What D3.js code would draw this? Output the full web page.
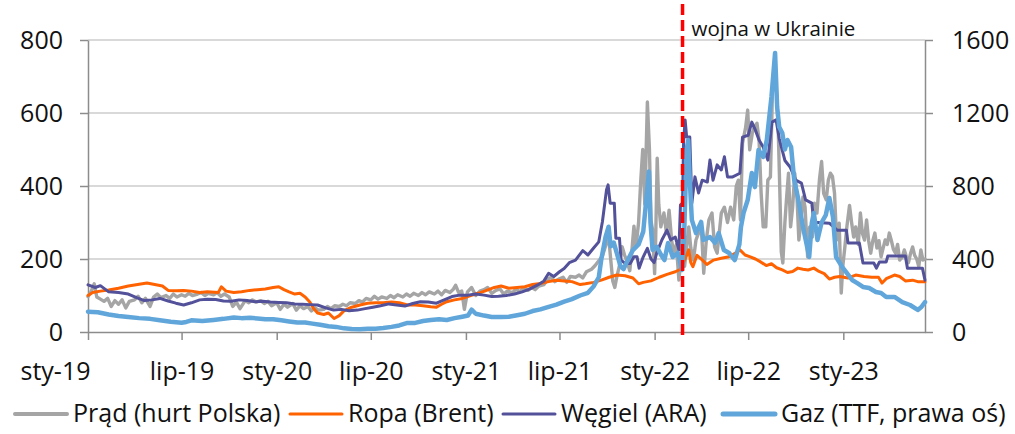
<!DOCTYPE html>
<html><head><meta charset="utf-8">
<script src="https://cdn.jsdelivr.net/npm/d3@7"></script>
<style>
body{margin:0;background:#fff}
svg text{font-family:"Open Sans",sans-serif;fill:#111}
</style>
</head><body>
<svg id="chart" width="1015" height="434"></svg>
<script>
// ---------- DATA ----------
const xTickDates = ["2019-01-01","2019-07-01","2020-01-01","2020-07-01","2021-01-01","2021-07-01","2022-01-01","2022-07-01","2023-01-01"];
const xTickLabels = ["sty-19","lip-19","sty-20","lip-20","sty-21","lip-21","sty-22","lip-22","sty-23"];
const leftTicks = [0,200,400,600,800];
const rightTicks = [0,400,800,1200,1600];
const seriesNames = ["Prąd (hurt Polska)","Ropa (Brent)","Węgiel (ARA)","Gaz (TTF, prawa oś)"];
const eventDate = "2022-02-24";
const eventLabel = "wojna w Ukrainie";
const dateStart = "2019-01-01", dateEnd = "2023-06-08";

const prad = [
["2019-01-01",97],["2019-01-06",108],["2019-01-13",132],["2019-01-18",96],["2019-01-25",90],["2019-02-01",84],["2019-02-08",92],["2019-02-15",70],["2019-02-22",86],["2019-03-01",76],["2019-03-08",88],["2019-03-15",66],["2019-03-22",84],["2019-04-01",88],["2019-04-08",98],["2019-04-15",80],["2019-04-22",92],["2019-05-01",70],["2019-05-08",96],["2019-05-15",104],["2019-05-22",94],["2019-06-01",100],["2019-06-08",92],["2019-06-15",104],["2019-06-22",96],["2019-07-01",102],["2019-07-08",98],["2019-07-15",106],["2019-07-22",100],["2019-08-01",104],["2019-08-08",108],["2019-08-15",100],["2019-08-22",106],["2019-09-01",102],["2019-09-08",108],["2019-09-15",98],["2019-09-22",104],["2019-10-01",96],["2019-10-08",70],["2019-10-15",82],["2019-10-22",64],["2019-11-01",86],["2019-11-08",80],["2019-11-15",88],["2019-11-22",82],["2019-12-01",86],["2019-12-08",78],["2019-12-15",84],["2019-12-22",72],
["2020-01-01",80],["2020-01-08",62],["2020-01-15",76],["2020-01-22",68],["2020-02-01",78],["2020-02-08",60],["2020-02-15",72],["2020-02-22",64],["2020-03-01",70],["2020-03-08",58],["2020-03-15",66],["2020-03-22",60],["2020-04-01",62],["2020-04-08",70],["2020-04-15",64],["2020-04-22",72],["2020-05-01",70],["2020-05-08",76],["2020-05-15",72],["2020-05-22",80],["2020-06-01",78],["2020-06-08",86],["2020-06-15",82],["2020-06-22",92],["2020-07-01",88],["2020-07-08",98],["2020-07-15",90],["2020-07-22",96],["2020-08-01",92],["2020-08-08",100],["2020-08-15",94],["2020-08-22",102],["2020-09-01",96],["2020-09-08",104],["2020-09-15",98],["2020-09-22",106],["2020-10-01",100],["2020-10-08",108],["2020-10-15",102],["2020-10-22",110],["2020-11-01",104],["2020-11-08",112],["2020-11-15",102],["2020-11-22",114],["2020-12-01",108],["2020-12-08",118],["2020-12-12",128],["2020-12-18",108],["2020-12-24",112],["2020-12-29",62],
["2021-01-04",110],["2021-01-12",122],["2021-01-20",100],["2021-01-28",112],["2021-02-05",116],["2021-02-12",122],["2021-02-20",106],["2021-02-28",114],["2021-03-08",118],["2021-03-15",104],["2021-03-22",112],["2021-04-01",108],["2021-04-08",118],["2021-04-15",110],["2021-04-22",120],["2021-05-01",114],["2021-05-08",122],["2021-05-15",116],["2021-05-22",126],["2021-06-01",130],["2021-06-08",144],["2021-06-15",150],["2021-06-22",138],["2021-07-01",146],["2021-07-08",150],["2021-07-15",136],["2021-07-22",152],["2021-08-01",150],["2021-08-08",156],["2021-08-15",148],["2021-08-22",165],["2021-09-01",172],["2021-09-08",182],["2021-09-15",195],["2021-09-22",208],["2021-09-29",240],["2021-10-04",262],["2021-10-08",200],["2021-10-12",140],["2021-10-16",122],["2021-10-20",152],["2021-10-25",182],["2021-10-30",234],["2021-11-04",210],["2021-11-08",196],["2021-11-14",168],["2021-11-18",222],["2021-11-22",290],["2021-11-26",232],["2021-12-01",300],["2021-12-05",410],["2021-12-09",500],["2021-12-13",350],["2021-12-18",630],["2021-12-22",500],["2021-12-25",306],["2021-12-28",280],
["2022-01-01",160],["2022-01-03",250],["2022-01-06",476],["2022-01-09",350],["2022-01-13",288],["2022-01-19",326],["2022-01-24",270],["2022-01-29",334],["2022-02-03",250],["2022-02-07",216],["2022-02-12",240],["2022-02-17",142],["2022-02-21",200],["2022-02-24",252],["2022-02-28",180],["2022-03-04",233],["2022-03-08",288],["2022-03-12",230],["2022-03-17",197],["2022-03-22",252],["2022-03-27",271],["2022-04-01",298],["2022-04-06",161],["2022-04-11",252],["2022-04-16",307],["2022-04-22",326],["2022-04-27",233],["2022-05-02",216],["2022-05-06",271],["2022-05-10",326],["2022-05-16",342],["2022-05-22",300],["2022-05-28",342],["2022-06-03",307],["2022-06-08",400],["2022-06-12",416],["2022-06-16",307],["2022-06-20",517],["2022-06-26",560],["2022-06-30",608],["2022-07-04",499],["2022-07-09",545],["2022-07-13",562],["2022-07-18",572],["2022-07-22",526],["2022-07-26",381],["2022-07-30",288],["2022-08-04",288],["2022-08-08",416],["2022-08-13",425],["2022-08-17",663],["2022-08-20",709],["2022-08-24",680],["2022-08-28",560],["2022-08-31",398],["2022-09-03",220],["2022-09-06",189],["2022-09-10",300],["2022-09-13",362],["2022-09-17",435],["2022-09-21",288],["2022-09-25",342],["2022-09-29",435],["2022-10-03",381],["2022-10-07",252],["2022-10-11",300],["2022-10-15",370],["2022-10-19",342],["2022-10-24",206],["2022-10-28",288],["2022-11-02",260],["2022-11-06",353],["2022-11-11",326],["2022-11-16",420],["2022-11-20",467],["2022-11-24",380],["2022-11-29",362],["2022-12-03",416],["2022-12-07",435],["2022-12-11",426],["2022-12-15",380],["2022-12-19",252],["2022-12-24",298],["2022-12-28",107],["2022-12-31",180],
["2023-01-04",233],["2023-01-08",290],["2023-01-13",347],["2023-01-17",300],["2023-01-21",260],["2023-01-25",288],["2023-01-30",240],["2023-02-03",326],["2023-02-07",270],["2023-02-11",252],["2023-02-15",307],["2023-02-19",250],["2023-02-23",216],["2023-02-27",250],["2023-03-03",271],["2023-03-07",230],["2023-03-11",250],["2023-03-15",206],["2023-03-19",230],["2023-03-23",252],["2023-03-27",240],["2023-03-31",271],["2023-04-04",250],["2023-04-08",226],["2023-04-12",216],["2023-04-16",240],["2023-04-20",197],["2023-04-25",205],["2023-04-29",225],["2023-05-03",206],["2023-05-07",190],["2023-05-11",215],["2023-05-15",233],["2023-05-19",210],["2023-05-23",200],["2023-05-27",179],["2023-05-31",225],["2023-06-04",197],["2023-06-08",200]
];

const ropa = [
["2019-01-01",100],["2019-01-10",108],["2019-01-25",112],["2019-02-10",115],["2019-03-01",120],["2019-03-20",126],["2019-04-10",131],["2019-04-25",134],["2019-05-10",130],["2019-05-25",126],["2019-06-05",114],["2019-06-20",113],["2019-07-05",114],["2019-07-20",112],["2019-08-05",108],["2019-08-20",110],["2019-09-10",108],["2019-09-16",124],["2019-09-25",112],["2019-10-10",108],["2019-10-25",110],["2019-11-10",114],["2019-11-25",116],["2019-12-10",118],["2019-12-25",122],
["2020-01-05",124],["2020-01-15",116],["2020-01-25",110],["2020-02-05",104],["2020-02-15",106],["2020-02-25",96],["2020-03-05",82],["2020-03-12",65],["2020-03-20",52],["2020-04-01",48],["2020-04-10",52],["2020-04-21",37],["2020-05-01",45],["2020-05-10",58],["2020-05-25",68],["2020-06-10",74],["2020-06-25",79],["2020-07-10",80],["2020-07-25",80],["2020-08-10",82],["2020-08-25",80],["2020-09-10",74],["2020-09-25",74],["2020-10-10",72],["2020-10-25",69],["2020-11-05",68],["2020-11-15",76],["2020-11-25",83],["2020-12-10",88],["2020-12-25",92],
["2021-01-10",100],["2021-01-25",106],["2021-02-10",114],["2021-02-25",122],["2021-03-10",126],["2021-03-25",120],["2021-04-10",122],["2021-04-25",124],["2021-05-10",130],["2021-05-25",133],["2021-06-10",138],["2021-06-25",142],["2021-07-10",140],["2021-07-25",138],["2021-08-10",130],["2021-08-20",132],["2021-09-05",136],["2021-09-20",142],["2021-10-05",150],["2021-10-20",156],["2021-11-05",154],["2021-11-20",148],["2021-12-01",132],["2021-12-10",136],["2021-12-25",140],
["2022-01-10",150],["2022-01-25",158],["2022-02-10",165],["2022-02-20",172],["2022-03-01",200],["2022-03-08",225],["2022-03-12",190],["2022-03-16",179],["2022-03-24",210],["2022-04-05",195],["2022-04-12",185],["2022-04-25",197],["2022-05-10",202],["2022-05-25",206],["2022-06-08",218],["2022-06-15",225],["2022-06-25",211],["2022-07-05",206],["2022-07-15",200],["2022-07-25",192],["2022-08-05",182],["2022-08-15",187],["2022-08-25",176],["2022-09-05",170],["2022-09-15",163],["2022-09-25",166],["2022-10-05",175],["2022-10-15",172],["2022-10-25",170],["2022-11-05",175],["2022-11-15",166],["2022-11-25",160],["2022-12-05",145],["2022-12-15",150],["2022-12-25",152],
["2023-01-10",148],["2023-01-25",156],["2023-02-10",152],["2023-02-25",150],["2023-03-10",150],["2023-03-17",134],["2023-03-25",146],["2023-04-10",156],["2023-04-20",152],["2023-05-01",140],["2023-05-15",142],["2023-05-25",138],["2023-06-08",138]
];

const wegiel = [
["2019-01-01",129],["2019-01-15",122],["2019-01-25",127],["2019-02-10",110],["2019-03-01",108],["2019-03-20",104],["2019-04-05",94],["2019-04-20",86],["2019-05-05",88],["2019-05-20",92],["2019-06-05",85],["2019-06-20",79],["2019-07-05",74],["2019-07-20",80],["2019-08-05",88],["2019-08-20",90],["2019-09-05",89],["2019-09-20",85],["2019-10-05",84],["2019-10-20",88],["2019-11-05",86],["2019-11-20",83],["2019-12-05",84],["2019-12-20",82],
["2020-01-05",81],["2020-01-20",80],["2020-02-05",77],["2020-02-20",76],["2020-03-05",75],["2020-03-20",74],["2020-04-05",66],["2020-04-20",60],["2020-05-05",62],["2020-05-20",58],["2020-06-05",60],["2020-06-20",64],["2020-07-05",68],["2020-07-20",72],["2020-08-05",77],["2020-08-20",74],["2020-09-05",71],["2020-09-20",78],["2020-10-05",83],["2020-10-20",82],["2020-11-05",79],["2020-11-20",88],["2020-12-05",97],["2020-12-20",101],
["2021-01-05",101],["2021-01-20",104],["2021-02-05",101],["2021-02-20",97],["2021-03-05",98],["2021-03-20",100],["2021-04-05",104],["2021-04-20",110],["2021-05-05",118],["2021-05-20",129],["2021-06-01",140],["2021-06-10",161],["2021-06-20",152],["2021-07-01",165],["2021-07-10",174],["2021-07-20",190],["2021-08-01",197],["2021-08-15",223],["2021-08-25",211],["2021-09-05",230],["2021-09-15",247],["2021-09-22",302],["2021-09-30",390],["2021-10-03",403],["2021-10-07",353],["2021-10-15",353],["2021-10-18",257],["2021-10-25",257],["2021-10-28",197],["2021-11-05",188],["2021-11-15",188],["2021-11-22",206],["2021-11-28",206],["2021-12-02",175],["2021-12-10",206],["2021-12-18",229],["2021-12-25",200],["2021-12-31",190],
["2022-01-05",216],["2022-01-15",252],["2022-01-25",279],["2022-02-01",252],["2022-02-10",260],["2022-02-17",225],["2022-02-20",348],["2022-02-24",353],["2022-02-26",520],["2022-03-01",581],["2022-03-04",534],["2022-03-10",534],["2022-03-14",353],["2022-03-20",425],["2022-03-27",381],["2022-04-03",416],["2022-04-13",411],["2022-04-18",471],["2022-04-24",416],["2022-05-02",458],["2022-05-10",444],["2022-05-16",480],["2022-05-22",425],["2022-06-01",425],["2022-06-15",435],["2022-06-20",534],["2022-07-01",539],["2022-07-08",575],["2022-07-15",553],["2022-07-22",526],["2022-07-30",507],["2022-08-08",471],["2022-08-16",575],["2022-08-24",581],["2022-08-30",530],["2022-09-10",470],["2022-09-20",452],["2022-10-01",416],["2022-10-12",408],["2022-10-20",362],["2022-11-01",353],["2022-11-05",301],["2022-12-05",298],["2022-12-20",279],
["2023-01-07",279],["2023-01-10",244],["2023-02-01",244],["2023-02-08",189],["2023-03-01",189],["2023-03-06",175],["2023-03-12",192],["2023-03-25",192],["2023-03-28",208],["2023-05-01",208],["2023-05-05",175],["2023-06-03",175],["2023-06-08",142]
];

const gaz = [
["2019-01-01",111],["2019-01-20",108],["2019-02-10",96],["2019-03-01",88],["2019-03-20",82],["2019-04-10",76],["2019-05-01",72],["2019-05-20",64],["2019-06-10",56],["2019-07-01",51],["2019-07-10",55],["2019-07-20",64],["2019-08-10",60],["2019-09-01",66],["2019-09-20",72],["2019-10-10",80],["2019-10-25",76],["2019-11-10",78],["2019-11-25",74],["2019-12-10",70],["2019-12-25",70],
["2020-01-10",64],["2020-01-25",58],["2020-02-10",52],["2020-02-25",52],["2020-03-10",46],["2020-03-25",40],["2020-04-10",32],["2020-04-25",28],["2020-05-10",20],["2020-05-25",16],["2020-06-10",15],["2020-06-25",18],["2020-07-10",18],["2020-07-25",22],["2020-08-10",28],["2020-08-25",36],["2020-09-10",50],["2020-09-25",50],["2020-10-10",60],["2020-10-25",66],["2020-11-10",70],["2020-11-25",66],["2020-12-10",76],["2020-12-25",84],
["2021-01-05",90],["2021-01-12",122],["2021-01-20",100],["2021-02-05",90],["2021-02-20",82],["2021-03-10",82],["2021-03-25",84],["2021-04-10",92],["2021-04-25",100],["2021-05-10",115],["2021-05-25",124],["2021-06-10",138],["2021-06-25",150],["2021-07-10",166],["2021-07-25",180],["2021-08-10",200],["2021-08-25",215],["2021-09-05",250],["2021-09-15",300],["2021-09-20",400],["2021-09-28",520],["2021-10-04",577],["2021-10-08",470],["2021-10-14",490],["2021-10-20",431],["2021-10-27",360],["2021-11-02",345],["2021-11-10",394],["2021-11-20",449],["2021-12-01",480],["2021-12-10",550],["2021-12-21",880],["2021-12-24",600],["2021-12-28",450],
["2022-01-05",467],["2022-01-14",420],["2022-01-20",394],["2022-01-27",488],["2022-02-05",411],["2022-02-15",433],["2022-02-23",340],["2022-02-27",520],["2022-03-04",1000],["2022-03-07",1052],["2022-03-10",833],["2022-03-14",614],["2022-03-22",542],["2022-04-01",603],["2022-04-05",504],["2022-04-18",520],["2022-04-28",488],["2022-05-05",542],["2022-05-15",449],["2022-05-25",433],["2022-06-05",394],["2022-06-14",480],["2022-06-17",575],["2022-06-22",652],["2022-06-30",723],["2022-07-08",871],["2022-07-14",794],["2022-07-21",997],["2022-07-30",959],["2022-08-06",1052],["2022-08-15",1288],["2022-08-22",1529],["2022-08-26",1233],["2022-08-30",1123],["2022-09-05",1090],["2022-09-10",1000],["2022-09-15",1052],["2022-09-22",1014],["2022-09-28",833],["2022-10-05",740],["2022-10-15",575],["2022-10-22",480],["2022-10-27",411],["2022-11-01",597],["2022-11-05",652],["2022-11-12",504],["2022-11-20",600],["2022-11-28",640],["2022-12-05",734],["2022-12-12",630],["2022-12-18",411],["2022-12-30",356],
["2023-01-08",323],["2023-01-18",285],["2023-01-28",268],["2023-02-08",247],["2023-02-20",241],["2023-03-05",219],["2023-03-15",214],["2023-03-25",192],["2023-04-10",192],["2023-04-25",164],["2023-05-10",148],["2023-05-25",121],["2023-06-01",137],["2023-06-08",164]
];

const seriesColors = ["#a5a5a5","#ff6200","#525199","#60a6da"];

// ---------- CHART ----------
const parse = d3.timeParse("%Y-%m-%d");
const svg = d3.select("#chart");
const L = 88, R = 925, T = 40, B = 332;

const x = d3.scaleTime().domain([parse(dateStart), parse(dateEnd)]).range([L, R]);
const yL = d3.scaleLinear().domain([0, 800]).range([B, T]);
const yR = d3.scaleLinear().domain([0, 1600]).range([B, T]);

// gridlines
svg.append("g").selectAll("line").data(leftTicks.filter(v => v > 0)).join("line")
  .attr("x1", L).attr("x2", R).attr("y1", d => yL(d)).attr("y2", d => yL(d))
  .attr("stroke", "#d9d9d9").attr("stroke-width", 2);

function styleAxis(g) {
  g.selectAll(".domain").attr("stroke", "#8c8c8c").attr("stroke-width", 1.5);
  g.selectAll(".tick line").attr("stroke", "#8c8c8c").attr("stroke-width", 1.5);
  g.selectAll("text").attr("font-family", "Open Sans, sans-serif").attr("font-size", 25).attr("fill", "#111");
}

const gL = svg.append("g").attr("transform", `translate(${L},0)`)
  .call(d3.axisLeft(yL).tickValues(leftTicks).tickSize(8).tickSizeOuter(0).tickPadding(17).tickFormat(d3.format("d")));
styleAxis(gL);
const gR = svg.append("g").attr("transform", `translate(${R},0)`)
  .call(d3.axisRight(yR).tickValues(rightTicks).tickSize(8).tickSizeOuter(0).tickPadding(19).tickFormat(d3.format("d")));
styleAxis(gR);
const gX = svg.append("g").attr("transform", `translate(0,${B})`)
  .call(d3.axisBottom(x).tickValues(xTickDates.map(parse)).tickSize(8).tickSizeOuter(0).tickPadding(22)
    .tickFormat((d, i) => xTickLabels[i]));
styleAxis(gX);
gX.selectAll(".tick text").filter((d, i) => i === 0).attr("text-anchor", "end").attr("dx", 2);

// lines
const series = [
  {data: prad, y: yL, w: 3.4},
  {data: ropa, y: yL, w: 3},
  {data: wegiel, y: yL, w: 3},
  {data: gaz, y: yR, w: 4.5}
];
series.forEach((s, i) => {
  const line = d3.line().x(d => x(parse(d[0]))).y(d => s.y(d[1]));
  svg.append("path").datum(s.data).attr("d", line)
    .attr("fill", "none").attr("stroke", seriesColors[i]).attr("stroke-width", s.w)
    .attr("stroke-linejoin", "round").attr("stroke-linecap", "round");
});

// event marker
const ex = x(parse(eventDate));
svg.append("line").attr("x1", ex).attr("x2", ex).attr("y1", 4).attr("y2", B + 4)
  .attr("stroke", "#ff0000").attr("stroke-width", 3.5).attr("stroke-dasharray", "11,5");
svg.append("text").attr("x", ex + 9).attr("y", 36).attr("font-size", 20.5).text(eventLabel);

// legend
const legendX = [15, 290, 503, 723];
const legendW = [4, 3, 3, 5];
const lg = svg.append("g");
seriesNames.forEach((n, i) => {
  lg.append("line").attr("x1", legendX[i]).attr("x2", legendX[i] + 52).attr("y1", 414).attr("y2", 414)
    .attr("stroke", seriesColors[i]).attr("stroke-width", legendW[i]).attr("stroke-linecap", "round");
  lg.append("text").attr("x", legendX[i] + 58).attr("y", 422).attr("font-size", 25).text(n);
});
</script>
</body></html>
